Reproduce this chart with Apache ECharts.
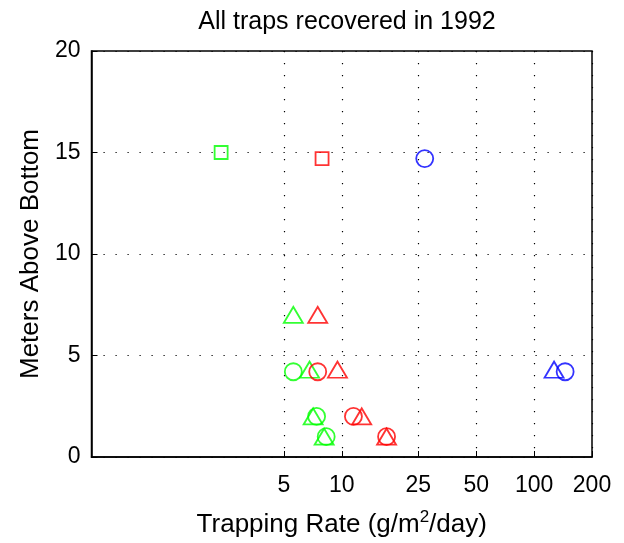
<!DOCTYPE html>
<html>
<head>
<meta charset="utf-8">
<script src="https://cdn.jsdelivr.net/npm/echarts@6/dist/echarts.min.js"></script>
<style>html,body{margin:0;padding:0;background:#fff}#c{width:624px;height:543px}</style>
</head>
<body>
<div id="c"></div>
<script>
const xTicks = [5, 10, 25, 50, 100, 200];
const xRange = [0.5, 200];
const yTicks = [0, 5, 10, 15, 20];
const greenSquare = [[2.36, 15.0]];
const redSquare = [[7.9, 14.7]];
const blueCircle = [[27, 14.7], [145, 4.2]];
const blueTriangle = [[127, 4.3]];
const greenTriangle = [[5.6, 7.0], [6.8, 4.3], [7.1, 2.0], [8.1, 1.0]];
const greenCircle = [[5.6, 4.2], [7.4, 2.0], [8.3, 1.0]];
const redTriangle = [[7.5, 7.0], [9.5, 4.3], [12.7, 2.0], [17.1, 1.0]];
const redCircle = [[7.5, 4.2], [11.5, 2.0], [17.1, 1.0]];

const lg = v => Math.log10(v);
const toLog = arr => arr.map(p => [lg(p[0]), p[1]]);
const FONT = 'Liberation Sans, Arial, Helvetica, sans-serif';

function mk(name, data, color, symbol, size) {
  return {
    name, type: 'scatter', data: toLog(data), symbol, symbolSize: size,
    itemStyle: { color: 'rgba(0,0,0,0)', borderColor: color, borderWidth: 1.8 },
    emphasis: { disabled: true }, animation: false
  };
}

const chart = echarts.init(document.getElementById('c'));
const dotted = { show: true, lineStyle: { color: '#000', type: [1.2, 10.8], width: 1.2 } };
chart.setOption({
  animation: false,
  title: {
    text: 'All traps recovered in 1992', left: 342, top: 5, textAlign: 'center',
    textStyle: { fontFamily: FONT, fontSize: 25, fontWeight: 'normal', color: '#000' }
  },
  grid: { left: 91.5, right: 32, top: 51, bottom: 86, show: true, borderColor: '#000', borderWidth: 1.5, backgroundColor: 'transparent' },
  xAxis: {
    type: 'value', min: lg(xRange[0]), max: lg(xRange[1]),
    name: 'Trapping Rate (g/m{sup|2}/day)', nameLocation: 'middle', nameGap: 52,
    nameTextStyle: { fontFamily: FONT, fontSize: 26, color: '#000',
      rich: { sup: { fontFamily: FONT, fontSize: 17, verticalAlign: 'top', padding: [0, 0, 15, 0], color: '#000' } } },
    axisLine: { show: true, onZero: false, lineStyle: { color: '#000', width: 1.5 } },
    axisTick: { show: true, inside: true, length: 6, customValues: xTicks.map(lg), lineStyle: { color: '#000', width: 1 } },
    axisLabel: { customValues: xTicks.map(lg), formatter: v => String(Math.round(Math.pow(10, v))), fontFamily: FONT, fontSize: 23, color: '#000', margin: 17 },
    splitLine: dotted
  },
  yAxis: {
    type: 'value', min: 0, max: 20, interval: 5,
    name: 'Meters Above Bottom', nameLocation: 'middle', nameGap: 48, nameRotate: 90,
    nameTextStyle: { fontFamily: FONT, fontSize: 26, color: '#000' },
    axisLine: { show: true, onZero: false, lineStyle: { color: '#000', width: 1.5 } },
    axisTick: { show: true, inside: true, length: 6, lineStyle: { color: '#000', width: 1 } },
    axisLabel: { fontFamily: FONT, fontSize: 23, color: '#000', margin: 11 },
    splitLine: dotted
  },
  series: [
    mk('gs', greenSquare, '#00ff00', 'rect', 13),
    mk('rs', redSquare, '#ff0000', 'rect', 13),
    mk('bc', blueCircle, '#0000ff', 'circle', 17),
    mk('bt', blueTriangle, '#0000ff', 'triangle', [19, 16]),
    mk('gt', greenTriangle, '#00ff00', 'triangle', [19, 16]),
    mk('gc', greenCircle, '#00ff00', 'circle', 17),
    mk('rt', redTriangle, '#ff0000', 'triangle', [19, 16]),
    mk('rc', redCircle, '#ff0000', 'circle', 17)
  ]
});
</script>
</body>
</html>
